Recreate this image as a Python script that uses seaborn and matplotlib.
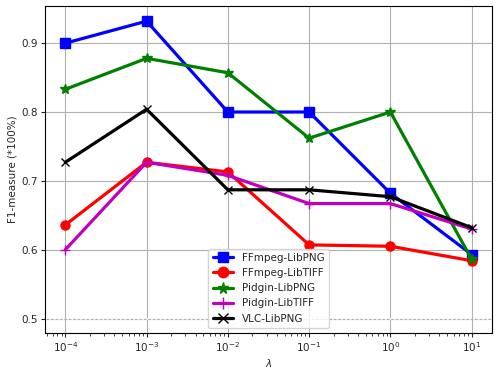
import matplotlib
matplotlib.use("Agg")
import matplotlib.pyplot as plt
import seaborn as sns
import pandas as pd

lambdas = [1e-4, 1e-3, 1e-2, 1e-1, 1e0, 1e1]
ffmpeg_libpng = [0.900, 0.932, 0.800, 0.800, 0.682, 0.593]
ffmpeg_libtiff = [0.636, 0.727, 0.713, 0.607, 0.605, 0.584]
pidgin_libpng = [0.833, 0.878, 0.857, 0.762, 0.800, 0.586]
pidgin_libtiff = [0.600, 0.727, 0.708, 0.667, 0.667, 0.630]
vlc_libpng = [0.727, 0.804, 0.687, 0.687, 0.677, 0.632]

series = [
    ("FFmpeg-LibPNG", ffmpeg_libpng, "blue", "s", 6.5),
    ("FFmpeg-LibTIFF", ffmpeg_libtiff, "red", "o", 6.5),
    ("Pidgin-LibPNG", pidgin_libpng, "green", "*", 7),
    ("Pidgin-LibTIFF", pidgin_libtiff, "m", "+", 7),
    ("VLC-LibPNG", vlc_libpng, "black", "x", 6),
]

sns.set_style("white")
fig, ax = plt.subplots(figsize=(5.01, 3.71), dpi=100)
fig.subplots_adjust(left=45/501, right=492/501, top=1-6/371, bottom=1-333/371)

for name, vals, color, marker, ms in series:
    df = pd.DataFrame({"lam": lambdas, "f1": vals})
    sns.lineplot(data=df, x="lam", y="f1", ax=ax, color=color, marker=marker,
                 markersize=ms, linewidth=2.3, label=name,
                 markeredgecolor=color, markeredgewidth=1.0)

ax.set_xscale("log")
ax.set_ylim(0.479, 0.954)
ax.grid(True, color="#b0b0b0", linewidth=0.8)
ax.axhline(0.5, color="white", linestyle=":", linewidth=1.2, zorder=1.5)
ax.set_yticks([0.5, 0.6, 0.7, 0.8, 0.9])
ax.set_xlabel(r"$\lambda$", fontsize=7.5, labelpad=2)
ax.set_ylabel("F1-measure (*100%)", fontsize=7.5, labelpad=3)
ax.tick_params(axis="both", labelsize=7.5, direction="out", length=3, pad=2, left=True, bottom=True)
ax.tick_params(axis="x", which="minor", length=1.8, bottom=True)
for s in ax.spines.values():
    s.set_color("black")
    s.set_linewidth(0.8)
ax.legend(loc="lower center", fontsize=7.5, frameon=True, markerscale=1.15)
fig.savefig("out.png", dpi=100)
